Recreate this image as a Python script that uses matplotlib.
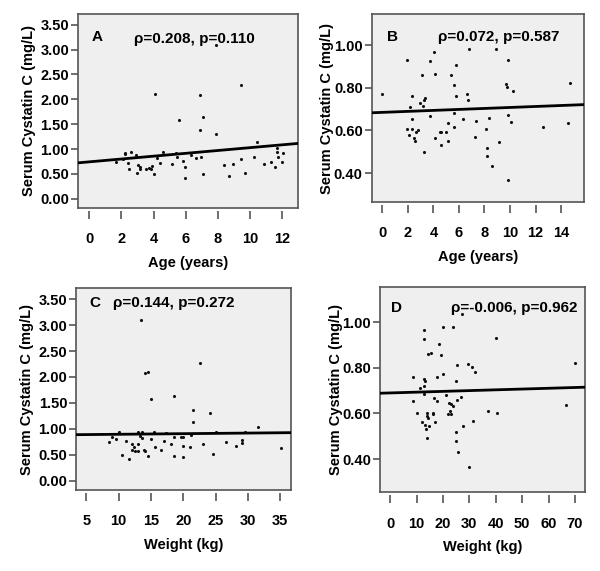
import numpy as np
import matplotlib
matplotlib.use("Agg")
import matplotlib.pyplot as plt

plt.rcParams['font.family'] = ['Liberation Sans', 'DejaVu Sans']
plt.rcParams['font.weight'] = 'bold'

# Panel A: age vs cystatin C (all)
age_a = [4.08, 6.92, 9.42, 7.9, 7.06, 5.58, 6.92, 7.9, 10.42, 1.65, 2.13, 2.25, 2.58, 2.23,
         2.38, 2.9, 2.48, 2.96, 3.02, 3.13, 3.17, 3.56, 3.69, 3.85, 3.92, 4.0, 4.21, 4.4,
         4.6, 5.17, 5.4, 5.48, 5.85, 5.98, 5.98, 6.33, 6.63, 6.98, 7.06, 8.4, 8.67, 8.94,
         9.42, 9.67, 10.25, 10.9, 11.33, 11.58, 11.71, 11.77, 12.0, 12.06, 11.7]
cys_a = [2.11, 2.09, 2.29, 3.10, 1.64, 1.58, 1.39, 1.31, 1.15, 0.75, 0.81, 0.93, 0.95, 0.90,
         0.72, 0.88, 0.60, 0.51, 0.68, 0.64, 0.60, 0.60, 0.63, 0.60, 0.66, 0.49, 0.82, 0.72,
         0.95, 0.71, 0.92, 0.85, 0.76, 0.64, 0.42, 0.88, 0.82, 0.85, 0.49, 0.68, 0.46, 0.70,
         0.80, 0.52, 0.85, 0.71, 0.75, 0.64, 0.95, 0.85, 0.74, 0.93, 1.02]
fit_a = (0.744, 0.0285)  # intercept, slope of the drawn fit line

# Panel B: age vs cystatin C (subset)
age_b = [0.0, 1.97, 4.06, 3.75, 3.07, 4.12, 6.82, 8.89, 9.81, 5.79, 5.35, 5.58, 9.65, 9.73,
         10.23, 14.71, 2.33, 5.79, 6.61, 6.69, 3.36, 3.28, 2.96, 3.15, 2.18, 2.31, 3.75, 5.58,
         6.35, 7.34, 8.39, 9.81, 10.07, 12.59, 14.53, 1.97, 2.07, 2.36, 2.6, 2.83, 2.49, 2.57,
         3.25, 4.09, 4.51, 4.62, 4.59, 5.0, 5.17, 5.14, 5.58, 7.29, 8.1, 9.15, 8.21, 8.18,
         8.6, 9.81]
cys_b = [0.772, 0.931, 0.966, 0.927, 0.861, 0.866, 0.98, 0.98, 0.931, 0.905, 0.858, 0.814,
         0.819, 0.805, 0.783, 0.823, 0.761, 0.761, 0.769, 0.744, 0.753, 0.745, 0.727, 0.716,
         0.712, 0.656, 0.669, 0.681, 0.653, 0.645, 0.659, 0.672, 0.642, 0.616, 0.636, 0.608,
         0.578, 0.608, 0.591, 0.602, 0.566, 0.55, 0.497, 0.563, 0.594, 0.595, 0.534, 0.595,
         0.633, 0.552, 0.616, 0.570, 0.606, 0.545, 0.519, 0.481, 0.434, 0.367]
fit_b = (0.685, 0.0023)

# Panel C: weight vs cystatin C (all)
wt_c = [13.5, 22.58, 14.02, 14.54, 15.05, 18.56, 21.55, 24.07, 21.55, 31.5, 8.56, 9.02, 9.59,
        10.05, 10.57, 11.08, 11.55, 12.06, 12.11, 12.42, 12.58, 12.94, 12.99, 13.04, 13.35,
        13.56, 13.6, 13.97, 14.12, 14.54, 15.0, 15.52, 15.57, 16.55, 17.01, 17.32, 18.04,
        18.56, 18.56, 19.59, 19.95, 20.0, 20.0, 21.08, 21.13, 23.04, 24.54, 25.05, 26.55,
        28.09, 29.07, 29.07, 29.59, 35.05]
cys_c = [3.09, 2.27, 2.08, 2.10, 1.57, 1.64, 1.37, 1.30, 1.14, 1.03, 0.74, 0.84, 0.81, 0.94,
         0.49, 0.77, 0.41, 0.71, 0.59, 0.64, 0.58, 0.71, 0.57, 0.94, 0.87, 0.94, 0.82, 0.60,
         0.58, 0.48, 0.80, 0.93, 0.64, 0.59, 0.76, 0.92, 0.71, 0.84, 0.48, 0.84, 0.85, 0.66,
         0.46, 0.64, 0.88, 0.71, 0.52, 0.93, 0.74, 0.67, 0.78, 0.73, 0.94, 0.62]
fit_c = (0.882, 0.00117)

# Panel D: weight vs cystatin C (subset)
wt_d = [27.3, 13.0, 12.9, 19.96, 24.0, 40.06, 18.45, 14.4, 15.3, 19.46, 25.5, 29.4, 31.1,
        31.97, 70.1, 8.85, 19.96, 17.94, 12.9, 13.4, 25.0, 11.37, 12.76, 12.9, 8.85, 16.8,
        17.94, 21.35, 22.37, 23.0, 23.9, 25.4, 26.8, 10.1, 13.9, 14.0, 14.3, 11.9, 13.4,
        13.65, 14.66, 14.0, 16.3, 16.4, 17.06, 22.0, 22.5, 23.0, 27.5, 31.5, 37.0, 40.4,
        66.6, 24.9, 24.9, 25.9, 29.9]
cys_d = [1.035, 0.965, 0.928, 0.981, 0.980, 0.931, 0.905, 0.861, 0.864, 0.858, 0.813, 0.818,
         0.803, 0.782, 0.823, 0.761, 0.771, 0.759, 0.752, 0.743, 0.743, 0.712, 0.721, 0.686,
         0.655, 0.667, 0.653, 0.679, 0.645, 0.642, 0.632, 0.657, 0.670, 0.604, 0.601, 0.588,
         0.578, 0.563, 0.550, 0.531, 0.547, 0.493, 0.604, 0.597, 0.561, 0.597, 0.613, 0.596,
         0.543, 0.569, 0.613, 0.604, 0.635, 0.517, 0.479, 0.432, 0.365]
fit_d = (0.690, 0.00034)

ylabel = "Serum Cystatin C (mg/L)"

panels = [
    # x, y, fit, letter, stats, xlabel, axes rect, xlim, ylim, xticks, yticks,
    # letter pos, stats pos, ylabel pad
    (age_a, cys_a, fit_a, "A", "\u03c1=0.208, p=0.110", "Age (years)",
     [0.130, 0.636, 0.367, 0.340], (-0.7, 13.0), (-0.18, 3.72),
     np.arange(0, 13, 2), np.arange(0, 3.6, 0.5), (0.06, 0.88), (0.255, 0.87), 3),
    (age_b, cys_b, fit_b, "B", "\u03c1=0.072, p=0.587", "Age (years)",
     [0.6195, 0.646, 0.354, 0.329], (-0.83, 15.8), (0.264, 1.145),
     np.arange(0, 15, 2), np.arange(0.4, 1.01, 0.2), (0.072, 0.878), (0.312, 0.878), -0.5),
    (wt_c, cys_c, fit_c, "C", "\u03c1=0.144, p=0.272", "Weight (kg)",
     [0.127, 0.142, 0.358, 0.353], (3.46, 36.65), (-0.18, 3.71),
     np.arange(5, 36, 5), np.arange(0, 3.6, 0.5), (0.06, 0.927), (0.17, 0.927), 3),
    (wt_d, cys_d, fit_d, "D", "\u03c1=-0.006, p=0.962", "Weight (kg)",
     [0.633, 0.138, 0.342, 0.3585], (-3.9, 73.8), (0.255, 1.152),
     np.arange(0, 71, 10), np.arange(0.4, 1.01, 0.2), (0.055, 0.90), (0.346, 0.90), -0.5),
]

fig = plt.figure(figsize=(6.0, 5.71), dpi=100)
frame = '#555555'

for x, y, fit, letter, stats, xlab, rect, xlim, ylim, xt, yt, lpos, spos, ypad in panels:
    ax = fig.add_axes(rect)
    ax.set_facecolor('#efefef')
    ax.scatter(x, y, s=5, color='#111111', zorder=3, linewidths=0)
    xx = np.array(xlim)
    ax.plot(xx, fit[0] + fit[1] * xx, color='black', lw=2.0, zorder=4)
    ax.set_xlim(xlim)
    ax.set_ylim(ylim)
    ax.set_xticks(xt)
    ax.set_yticks(yt)
    ax.set_yticklabels(['%.2f' % v for v in yt])
    for s in ['top', 'left', 'right']:
        ax.spines[s].set_color(frame)
        ax.spines[s].set_linewidth(1.2)
    # x axis ticks sit a little below the frame, no axis line
    ax.spines['bottom'].set_position(('outward', 2))
    ax.spines['bottom'].set_visible(False)
    ax.plot([0, 1], [0, 0], transform=ax.transAxes, color=frame, lw=1.2, clip_on=False)
    ax.tick_params(axis='x', direction='out', length=5.5, width=1.2, color=frame,
                   pad=10, labelsize=10.5)
    ax.tick_params(axis='y', direction='out', length=5, width=1.2, color=frame,
                   pad=1.5, labelsize=10.5)
    ax.set_xlabel(xlab, fontsize=10.5, fontweight='bold', labelpad=7)
    ax.set_ylabel(ylabel, fontsize=10.5, fontweight='bold', labelpad=ypad)
    ax.text(lpos[0], lpos[1], letter, transform=ax.transAxes, fontsize=11,
            fontweight='bold', va='center', ha='left')
    ax.text(spos[0], spos[1], stats, transform=ax.transAxes, fontsize=11,
            fontweight='bold', va='center', ha='left')

fig.savefig('out.png', dpi=100)
